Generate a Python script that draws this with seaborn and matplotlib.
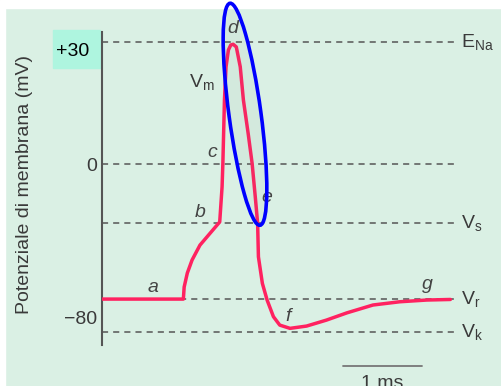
import numpy as np
import matplotlib
matplotlib.use('Agg')
import matplotlib.pyplot as plt
import seaborn as sns
from matplotlib.patches import Ellipse, Rectangle
from matplotlib.transforms import IdentityTransform

# action potential trace: time (ms) and membrane potential (mV)
time_ms = [0.00, 1.03, 1.04, 1.08, 1.14, 1.24, 1.37, 1.49, 1.52, 1.53, 1.55, 1.57, 1.60,
           1.63, 1.66, 1.70, 1.75, 1.79, 1.85, 1.90, 1.94, 1.97, 1.98, 2.03, 2.09, 2.17,
           2.25, 2.38, 2.59, 2.84, 3.10, 3.43, 3.77, 4.11, 4.41]
vm_mv = [-70.6, -70.6, -64.3, -57.0, -50.2, -42.4, -36.1, -30.3, -11.9, 0.2, 16.7, 25.4, 29.8,
         31.1, 31.3, 30.6, 25.4, 16.7, 8.0, 0.2, -17.1, -31.0, -48.5, -62.4, -71.1, -79.8,
         -84.2, -85.9, -84.7, -81.6, -77.8, -73.7, -72.0, -71.1, -70.8]

# reference levels (dashed lines) and their names
level_names = [r'E$_{\mathrm{Na}}$', '', r'V$_{\mathrm{s}}$', r'V$_{\mathrm{r}}$', r'V$_{\mathrm{k}}$']
level_mv = [31.9, 0.0, -30.8, -70.6, -87.8]

# phase letters along the trace
phase_labels = ['a', 'b', 'c', 'd', 'e', 'f', 'g']
phase_t = [0.65, 1.24, 1.39, 1.66, 2.09, 2.35, 4.12]
phase_mv = [-64.3, -25.1, 2.9, 35.5, -17.3, -79.5, -63.0]

# y ticks: 10 mV steps above zero, 20 mV steps below
ytick_mv = [20, 10, 0, -20, -40, -60, -80]
ytick_labels = ['', '', '0', '', '', '', '\u221280']

# highlighted spike (ellipse centre) and the time scale bar
spike_t, spike_mv = 1.81, 13.0
scalebar_t = [3.05, 4.05]
scalebar_mv = -105.5

sns.set_theme(style='white')
plt.rcParams['font.family'] = ['Liberation Sans', 'DejaVu Sans']
plt.rcParams['mathtext.fontset'] = 'custom'
plt.rcParams['mathtext.rm'] = 'Liberation Sans'
plt.rcParams['mathtext.it'] = 'Liberation Sans:italic'

bg = '#daf0e4'
txt = '#3a3a3a'
fig = plt.figure(figsize=(5.02, 3.86), dpi=100, facecolor=bg)
# white margins at the top and left of the panel, and the mint box behind +30
fig.add_artist(Rectangle((0, 378 / 386), 1, 8 / 386, transform=fig.transFigure,
                         color='white', zorder=-10))
fig.add_artist(Rectangle((0, 0), 5 / 502, 1, transform=fig.transFigure,
                         color='white', zorder=-10))
fig.add_artist(Rectangle((53 / 502, 318 / 386), 47 / 502, 38 / 386, transform=fig.transFigure,
                         color='#aef5df', zorder=-5))

ax = fig.add_axes([102 / 502, 41 / 386, 400 / 502, 313 / 386])
ax.set_facecolor('none')


def fwd(v):
    v = np.asarray(v, float)
    return np.where(v >= 0, v / 10.0, v / 20.0)


def inv(u):
    u = np.asarray(u, float)
    return np.where(u >= 0, u * 10.0, u * 20.0)


ax.set_yscale('function', functions=(fwd, inv))

ax.hlines(level_mv, 0, 4.47, colors='#555555', linestyles=(0, (4, 3.3)), lw=1.1, zorder=2)
sns.lineplot(x=time_ms, y=vm_mv, sort=False, estimator=None, color='#ff2260', lw=2.5,
             ax=ax, zorder=3)

ax.set_xlim(0, 400 / 79)
ax.set_ylim(-94.6, 34.5)

for s in ['top', 'right', 'bottom']:
    ax.spines[s].set_visible(False)
ax.spines['left'].set_color('#555555')
ax.spines['left'].set_linewidth(1.5)
ax.set_xticks([])
ax.set_yticks(ytick_mv, labels=ytick_labels)
ax.set_yticks([30], labels=['+30'], minor=True)
ax.tick_params(axis='y', which='both', direction='in', length=11.5, width=1.4,
               color='#555555', labelsize=14, labelcolor=txt, pad=3.5)
ax.tick_params(axis='y', which='minor', pad=9.5, labelcolor='black')

fig.text(25 / 502, 1 - 184 / 386, 'Potenziale di membrana (mV)', rotation=90,
         ha='center', va='center', fontsize=14, color=txt)

for name, v in zip(level_names, level_mv):
    if name:
        ax.text(4.55, v, name, ha='left', va='center', fontsize=14, color=txt, clip_on=False)

for lab, t, v in zip(phase_labels, phase_t, phase_mv):
    ax.text(t, v, lab, ha='center', va='center', fontsize=14, style='italic', color='#444444')
ax.text(1.27, 21.5, r'V$_{\mathrm{m}}$', ha='center', va='center', fontsize=14, color=txt)

# time scale bar
ax.plot(scalebar_t, [scalebar_mv, scalebar_mv], color='#777777', lw=1.3, clip_on=False)
ax.text(np.mean(scalebar_t), scalebar_mv - 5, '1 ms', ha='center', va='top', fontsize=14,
        color=txt, clip_on=False)

# blue ellipse around the spike
cx, cy = ax.transData.transform((spike_t, spike_mv))
fig.add_artist(Ellipse((cx, cy), width=32, height=224, angle=7.7, transform=IdentityTransform(),
                       facecolor=(0.4, 0.5, 0.45, 0.06), edgecolor='#0000ff', lw=2.6, zorder=5))

fig.savefig('out.png', dpi=100, facecolor=bg)
